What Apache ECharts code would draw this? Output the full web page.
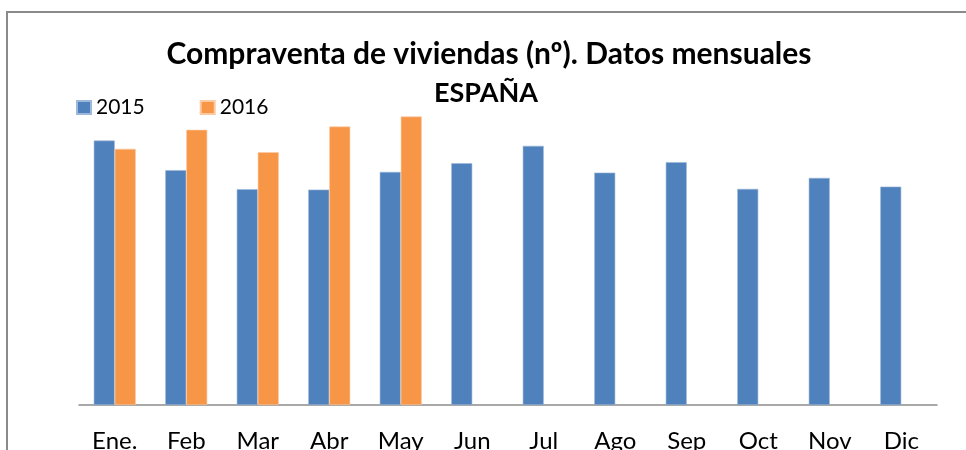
<!DOCTYPE html>
<html>
<head>
<meta charset="utf-8">
<script src="https://cdn.jsdelivr.net/npm/echarts@6/dist/echarts.min.js"></script>
<style>
html,body{margin:0;padding:0;background:#fff;}
#chart{width:966px;height:450px;}
</style>
</head>
<body>
<div id="chart"></div>
<script>
var categories = ['Ene.', 'Feb', 'Mar', 'Abr', 'May', 'Jun', 'Jul', 'Ago', 'Sep', 'Oct', 'Nov', 'Dic'];
var values2015 = [30050, 26690, 24530, 24480, 26490, 27480, 29450, 26410, 27600, 24560, 25810, 24820];
var values2016 = [29110, 31270, 28730, 31640, 32780, null, null, null, null, null, null, null];
var seriesNames = ['2015', '2016'];
var titleLines = ['Compraventa de viviendas (nº). Datos mensuales', 'ESPAÑA'];

var FONT = 'Lato';
var chart = echarts.init(document.getElementById('chart'), null, {renderer: 'canvas'});
chart.setOption({
  animation: false,
  backgroundColor: '#ffffff',
  color: ['#4F81BD', '#F79646'],
  graphic: [
    {type: 'rect', z: -1, shape: {x: 7, y: 12, width: 1200, height: 1200},
     style: {fill: 'none', stroke: '#8a8a8a', lineWidth: 2}},
    {type: 'text', x: 489, y: 54, style: {text: titleLines[0], fontFamily: FONT, fontWeight: 'bold', fontSize: 30, fill: '#000', align: 'center', verticalAlign: 'middle'}},
    {type: 'text', x: 486, y: 93, style: {text: titleLines[1], fontFamily: FONT, fontWeight: 'bold', fontSize: 27, fill: '#000', align: 'center', verticalAlign: 'middle'}}
  ],
  legend: {
    left: 71, top: 92,
    itemWidth: 14, itemHeight: 13, itemGap: 55,
    icon: 'rect',
    textStyle: {fontFamily: FONT, fontSize: 21, color: '#000'},
    data: seriesNames
  },
  grid: {left: 79, right: 29, top: 97, bottom: 45, containLabel: false, outerBoundsMode: 'none'},
  xAxis: {
    type: 'category',
    data: categories,
    axisLine: {show: true, lineStyle: {color: '#8c8c8c', width: 1.5}},
    axisTick: {show: false},
    axisLabel: {fontFamily: FONT, fontSize: 24, color: '#000', margin: 24, verticalAlign: 'top'}
  },
  yAxis: {
    type: 'value', min: 0, max: 35000, show: false,
    splitLine: {show: false}
  },
  series: [
    {name: seriesNames[0], type: 'bar', data: values2015, barWidth: 21, barGap: '0%',
     itemStyle: {color: '#4F81BD', borderColor: '#9db8d9', borderWidth: 0.6}},
    {name: seriesNames[1], type: 'bar', data: values2016, barWidth: 21, barGap: '0%',
     itemStyle: {color: '#F79646', borderColor: '#fbc9a2', borderWidth: 0.6}}
  ]
});
</script>
</body>
</html>
